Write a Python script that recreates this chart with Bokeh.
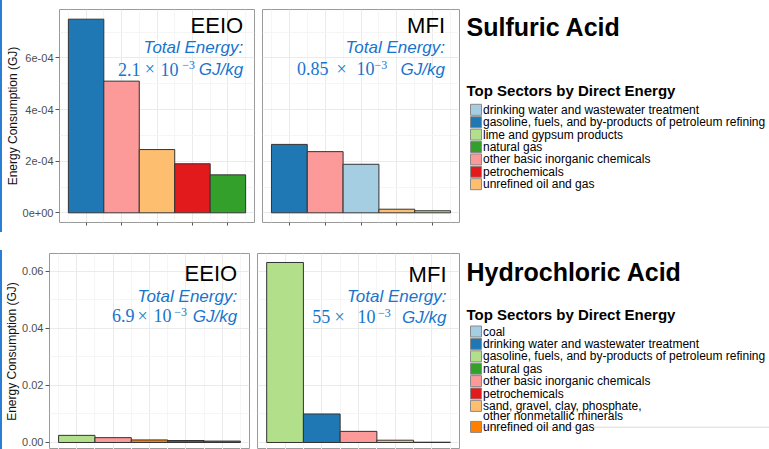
from bokeh.plotting import figure
from bokeh.layouts import row, column
from bokeh.models import Range1d, FixedTicker, CustomJSTickFormatter, NumeralTickFormatter, Div
from bokeh.core.properties import value
from bokeh.embed import file_html
from bokeh.resources import INLINE

SANS = "Liberation Sans"
SERIF = "Liberation Serif"
BLUE = "#1874CD"
MID = 0.345  # distance from alphabetic baseline to text-box middle, in font sizes

# ---------------- data ----------------
sulfuric_legend = [
    "drinking water and wastewater treatment",
    "gasoline, fuels, and by-products of petroleum refining",
    "lime and gypsum products",
    "natural gas",
    "other basic inorganic chemicals",
    "petrochemicals",
    "unrefined oil and gas",
]
sulfuric_colors = ["#A6CEE3", "#1F78B4", "#B2DF8A", "#33A02C", "#FB9A99", "#E31A1C", "#FDBF6F"]

sulfuric_eeio_sectors = [
    "gasoline, fuels, and by-products of petroleum refining",
    "other basic inorganic chemicals",
    "unrefined oil and gas",
    "petrochemicals",
    "natural gas",
]
sulfuric_eeio_values = [7.5e-4, 5.1e-4, 2.45e-4, 1.9e-4, 1.47e-4]

sulfuric_mfi_sectors = [
    "gasoline, fuels, and by-products of petroleum refining",
    "other basic inorganic chemicals",
    "drinking water and wastewater treatment",
    "unrefined oil and gas",
    "lime and gypsum products",
]
sulfuric_mfi_values = [2.65e-4, 2.37e-4, 1.88e-4, 1.4e-5, 8e-6]

hcl_legend = [
    "coal",
    "drinking water and wastewater treatment",
    "gasoline, fuels, and by-products of petroleum refining",
    "natural gas",
    "other basic inorganic chemicals",
    "petrochemicals",
    "sand, gravel, clay, phosphate,\nother nonmetallic minerals",
    "unrefined oil and gas",
]
hcl_colors = ["#A6CEE3", "#1F78B4", "#B2DF8A", "#33A02C", "#FB9A99", "#E31A1C", "#FDBF6F", "#FF7F00"]

hcl_eeio_sectors = [
    "gasoline, fuels, and by-products of petroleum refining",
    "other basic inorganic chemicals",
    "unrefined oil and gas",
    "petrochemicals",
    "natural gas",
]
hcl_eeio_values = [0.0025, 0.0017, 0.0009, 0.0007, 0.0005]

hcl_mfi_sectors = [
    "gasoline, fuels, and by-products of petroleum refining",
    "drinking water and wastewater treatment",
    "other basic inorganic chemicals",
    "sand, gravel, clay, phosphate,\nother nonmetallic minerals",
    "coal",
]
hcl_mfi_values = [0.0631, 0.0100, 0.0039, 0.0008, 0.0001]

total_energy = {"sulf_eeio": "2.1", "sulf_mfi": "0.85", "hcl_eeio": "6.9", "hcl_mfi": "55"}
sulfuric_yticks = [0, 2e-4, 4e-4, 6e-4]
hcl_yticks = [0, 0.02, 0.04, 0.06]
panel_names = ["EEIO", "MFI"]
acid_titles = ["Sulfuric Acid", "Hydrochloric Acid"]
legend_title = "Top Sectors by Direct Energy"
y_label = "Energy Consumption (GJ)"

# ---------------- helpers ----------------
sci_fmt = CustomJSTickFormatter(code=r"""
const s = tick.toExponential(0);
return s.replace(/e([+-])(\d)$/, (m, a, b) => "e" + a + "0" + b);
""")
blank_fmt = CustomJSTickFormatter(code="return '';")


def make_panel(fig_x, fig_y, width, height, frame, values, sectors, legend, colors,
               y_lo, y_hi, yticks, formatter, show_yaxis, show_xticks, notes):
    fl, fr, ft, fb = frame
    n = len(values)
    x_lo, x_hi = 0.25, n + 0.75
    p = figure(width=width, height=height, output_backend="svg", toolbar_location=None,
               x_range=Range1d(x_lo, x_hi), y_range=Range1d(y_lo, y_hi),
               min_border_left=fl - fig_x, min_border_right=fig_x + width - fr,
               min_border_top=ft - fig_y, min_border_bottom=fig_y + height - fb,
               background_fill_color="white", border_fill_color="white")
    p.outline_line_color = "#9A9A9A"
    p.outline_line_width = 1

    pos = list(range(1, n + 1))
    step = yticks[1] - yticks[0]
    xt = FixedTicker(ticks=pos, minor_ticks=[q - 0.5 for q in pos] + [pos[-1] + 0.5])
    yt = FixedTicker(ticks=yticks, minor_ticks=[t + step / 2 for t in yticks])
    p.xgrid.ticker = xt
    p.ygrid.ticker = yt
    p.grid.grid_line_color = "#EBEBEB"
    p.grid.grid_line_width = 1
    p.grid.minor_grid_line_color = "#F5F5F5"
    p.grid.minor_grid_line_width = 1

    cmap = dict(zip(legend, colors))
    fills = [cmap[s] for s in sectors]
    p.vbar(x=pos, top=values, bottom=0, width=1, fill_color=fills,
           line_color="#333333", line_width=1)

    if show_xticks:
        p.xaxis.ticker = xt
        p.xaxis.formatter = blank_fmt
        p.xaxis.major_label_standoff = 0
        p.xaxis.major_tick_out = 3
        p.xaxis.major_tick_in = 0
        p.xaxis.minor_tick_out = 0
        p.xaxis.minor_tick_in = 0
        p.xaxis.axis_line_color = None
        p.xaxis.major_tick_line_color = "#555555"
    else:
        p.xaxis.visible = False

    if show_yaxis:
        p.yaxis.ticker = yt
        p.yaxis.formatter = formatter
        p.yaxis.major_label_text_font = SANS
        p.yaxis.major_label_text_font_size = "11px"
        p.yaxis.major_label_text_color = "#4D4D4D"
        p.yaxis.major_label_standoff = 2
        p.yaxis.major_tick_out = 4
        p.yaxis.major_tick_in = 0
        p.yaxis.minor_tick_out = 0
        p.yaxis.minor_tick_in = 0
        p.yaxis.axis_line_color = None
        p.yaxis.major_tick_line_color = "#555555"
        p.yaxis.axis_label = y_label
        p.yaxis.axis_label_text_font = SANS
        p.yaxis.axis_label_text_font_size = "12px"
        p.yaxis.axis_label_text_font_style = "normal"
        p.yaxis.axis_label_text_color = "#111111"
        p.yaxis.axis_label_standoff = 0
    else:
        p.yaxis.visible = False

    # annotations placed by page-pixel baseline -> data coordinates
    for (txt, px, py, font, size, style, color, align) in notes:
        x = x_lo + (px - fl) / (fr - fl) * (x_hi - x_lo)
        ym = py - MID * size
        y = y_hi - (ym - ft) / (fb - ft) * (y_hi - y_lo)
        p.text(x=[x], y=[y], text=[txt], text_font=value(font), text_font_size=value(f"{size}px"),
               text_font_style=style, text_color=color, text_align=align,
               text_baseline="middle")
    return p


def energy_notes(name, right, base_name, base_te, base_math, total, num_left, times_left,
                 ten_left, sup_left):
    return [
        (name, right, base_name, SANS, 22, "normal", "#000000", "right"),
        ("Total Energy:", right, base_te, SANS, 17, "italic", BLUE, "right"),
        (total, num_left, base_math, SERIF, 18, "normal", BLUE, "left"),
        ("\u00d7", times_left, base_math, SERIF, 18, "normal", BLUE, "left"),
        ("10", ten_left, base_math, SERIF, 18, "normal", BLUE, "left"),
        ("\u22123", sup_left, base_math - 6, SERIF, 12, "normal", BLUE, "left"),
        ("GJ/kg", right, base_math, SANS, 17, "italic", BLUE, "right"),
    ]


def make_legend(fig_x, width, frame_top, frame_bottom, border_top, border_bottom, acid_title,
                title_base, lt_base, legend, colors, first_center, extra_line=None):
    height = border_top + (frame_bottom - frame_top) + border_bottom
    p = figure(width=width, height=height, output_backend="svg", toolbar_location=None,
               x_range=Range1d(fig_x, fig_x + width), y_range=Range1d(frame_bottom, frame_top),
               x_axis_location=None, y_axis_location=None,
               min_border_left=0, min_border_right=0,
               min_border_top=border_top, min_border_bottom=border_bottom,
               background_fill_color="white", border_fill_color="white")
    p.outline_line_color = None
    p.grid.visible = False
    p.text(x=[466], y=[title_base - MID * 25], text=[acid_title], text_font=value(SANS),
           text_font_size=value("25px"), text_font_style="bold", text_color="#000000",
           text_baseline="middle")
    p.text(x=[466], y=[lt_base - MID * 15], text=[legend_title], text_font=value(SANS),
           text_font_size=value("15px"), text_font_style="bold", text_color="#000000",
           text_baseline="middle")
    key_h, line_h = 12.4, 10.5
    centers, tx, ty, tt = [], [], [], []
    top = first_center - key_h / 2
    for lab in legend:
        lines = lab.split("\n")
        c = top + key_h / 2
        centers.append(c)
        for j, ln in enumerate(lines):
            tx.append(482.5)
            ty.append(c + j * line_h)
            tt.append(ln)
        top += max(key_h, len(lines) * line_h)
    if extra_line is not None:
        p.segment(x0=[extra_line[0]], y0=[extra_line[2]], x1=[extra_line[1]], y1=[extra_line[2]],
                  line_color="#DADADA", line_width=1)
    p.rect(x=[475.5] * len(centers), y=centers, width=11, height=11, fill_color=colors,
           line_color="#8A8A8A", line_width=1)
    p.text(x=tx, y=ty, text=tt, text_font=value(SANS), text_font_size=value("12px"),
           text_color="#000000", text_baseline="middle")
    return p


# ---------------- top row: sulfuric acid ----------------
m1 = max(max(sulfuric_eeio_values), max(sulfuric_mfi_values))
s_lo, s_hi = -0.05 * m1, 1.05 * m1

tl = make_panel(2, 0, 253, 231, (57, 254, 9, 222), sulfuric_eeio_values, sulfuric_eeio_sectors,
                sulfuric_legend, sulfuric_colors, s_lo, s_hi, sulfuric_yticks, sci_fmt, True, True,
                energy_notes(panel_names[0], 242.5, 32.5, 53, 75, total_energy["sulf_eeio"],
                             116, 143, 159, 181))
tr = make_panel(255, 0, 206, 231, (262, 459, 9, 222), sulfuric_mfi_values, sulfuric_mfi_sectors,
                sulfuric_legend, sulfuric_colors, s_lo, s_hi, sulfuric_yticks, sci_fmt, False, True,
                energy_notes(panel_names[1], 444.5, 32.5, 53, 74.5, total_energy["sulf_mfi"],
                             296.5, 336, 356, 374))
lg1 = make_legend(461, 308, 9, 222, 9, 9, acid_titles[0], 35.5, 95.5, sulfuric_legend,
                  sulfuric_colors, 109.3)

# ---------------- bottom row: hydrochloric acid ----------------
m2 = max(max(hcl_eeio_values), max(hcl_mfi_values))
h_lo, h_hi = -0.0389 * m2, 1.05 * m2

bl = make_panel(2, 231, 249, 218, (47, 249, 253, 449), hcl_eeio_values, hcl_eeio_sectors,
                hcl_legend, hcl_colors, h_lo, h_hi, hcl_yticks, NumeralTickFormatter(format="0.00"),
                True, False,
                energy_notes(panel_names[0], 236.5, 280.5, 301.5, 321.7, total_energy["hcl_eeio"],
                             110, 136, 152, 173))
br = make_panel(251, 231, 210, 218, (257, 459, 253, 449), hcl_mfi_values, hcl_mfi_sectors,
                hcl_legend, hcl_colors, h_lo, h_hi, hcl_yticks, NumeralTickFormatter(format="0.00"),
                False, False,
                energy_notes(panel_names[1], 446, 281.5, 302, 322.7, total_energy["hcl_mfi"],
                             311.7, 334, 357, 377.5))
lg2 = make_legend(461, 308, 253, 449, 22, 0, acid_titles[1], 280.5, 319, hcl_legend, hcl_colors,
                  331, extra_line=(480, 769, 426.7))

# slide edge strip at the far left
EDGE = "#2A7FD4"
edge = column(
    Div(text="", width=2, height=232, margin=0, styles={"background-color": EDGE}),
    Div(text="", width=2, height=18, margin=0, styles={"background-color": "white"}),
    Div(text="", width=2, height=199, margin=0, styles={"background-color": EDGE}),
    spacing=0,
)

charts = column(row(tl, tr, lg1, spacing=0), row(bl, br, lg2, spacing=0), spacing=0)
layout = row(edge, charts, spacing=0)

open("out.html", "w").write(file_html(layout, INLINE))
